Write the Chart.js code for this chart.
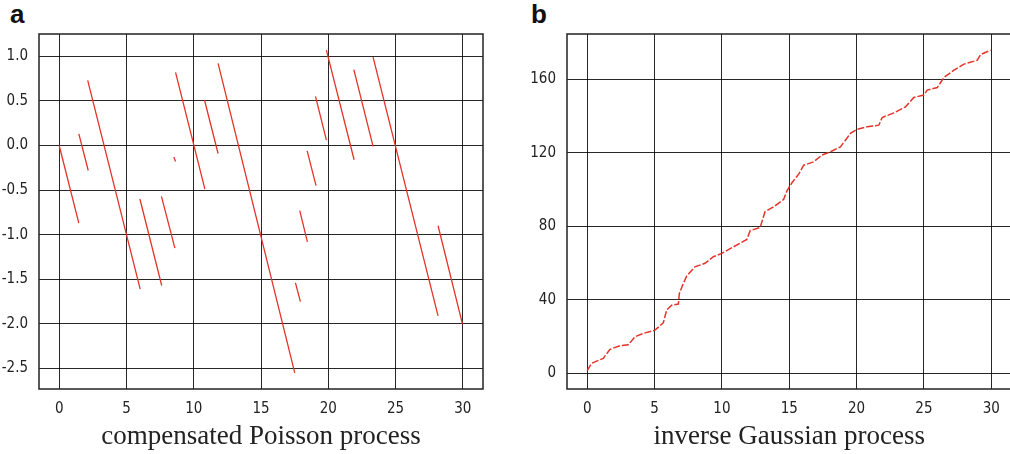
<!DOCTYPE html>
<html><head><meta charset="utf-8">
<script src="https://cdn.jsdelivr.net/npm/chart.js@4/dist/chart.umd.min.js"></script>
<style>
html,body{margin:0;padding:0;width:1010px;height:454px;overflow:hidden;background:#fff;}
.wrap{position:absolute;top:0;}
.lab{position:absolute;font-family:"Liberation Sans",Arial,sans-serif;font-weight:bold;font-size:26px;color:#111;line-height:1;}
</style></head><body>
<div class="lab" style="left:10px;top:1px">a</div>
<div class="lab" style="left:531px;top:1px">b</div>
<div class="wrap" style="left:0;width:500px;height:454px"><canvas id="c1" width="500" height="454"></canvas></div>
<div class="wrap" style="left:510px;width:510px;height:454px"><canvas id="c2" width="510" height="454"></canvas></div>
<script>
// ---- Panel a: compensated Poisson process (segments between jumps) ----
const segStartT = [0, 1.46, 2.12, 6.00, 7.60, 8.52, 8.65, 10.80, 11.81, 17.56, 17.88, 18.43, 19.05, 19.86, 21.90, 23.33, 28.16];
const segStartV = [0, 0.13, 0.73, -0.60, -0.57, -0.13, 0.82, 0.51, 0.92, -1.54, -0.73, -0.06, 0.55, 1.07, 0.85, 0.99, -0.90];
const segEndT   = [1.46, 2.16, 6.02, 7.62, 8.60, 8.65, 10.83, 11.81, 17.51, 17.93, 18.45, 19.09, 19.86, 21.92, 23.33, 28.16, 29.97];
const segEndV   = [-0.87, -0.28, -1.61, -1.57, -1.15, -0.18, -0.49, -0.09, -2.55, -1.75, -1.08, -0.45, 0.06, -0.16, -0.01, -1.91, -2.00];
const xTicks = [0, 5, 10, 15, 20, 25, 30];
const yTicksA = [-2.5, -2.0, -1.5, -1.0, -0.5, 0.0, 0.5, 1.0];

// ---- Panel b: inverse Gaussian process ----
const igT = [0, 0.32, 1.19, 1.69, 2.43, 3.05, 3.55, 4.17, 4.91, 5.03, 5.65, 5.90, 6.27, 6.77, 6.84, 7.14, 7.39, 8.00, 8.75, 9.37, 10.00, 10.86, 11.85, 12.10, 12.84, 13.20, 13.84, 14.58, 14.83, 15.20, 15.70, 16.07, 16.81, 17.43, 18.05, 18.80, 19.17, 19.54, 20.03, 20.78, 21.65, 21.90, 22.76, 23.63, 24.25, 24.99, 25.24, 25.99, 26.48, 27.23, 27.97, 28.96, 29.21, 29.95];
const igV = [1.3, 5.3, 8.0, 12.9, 14.9, 15.4, 19.8, 21.6, 23.1, 23.4, 27.4, 34.3, 37.0, 37.6, 43.4, 48.9, 52.9, 57.9, 59.8, 63.4, 65.2, 68.8, 72.8, 77.6, 79.4, 87.9, 90.6, 94.6, 99.3, 103.7, 108.4, 113.3, 115.1, 118.8, 120.6, 123.3, 126.9, 130.6, 132.8, 134.2, 135.1, 139.3, 141.8, 145.1, 150.2, 151.5, 154.2, 155.6, 161.1, 165.1, 168.4, 170.5, 173.6, 176.0];
const yTicksB = [0, 40, 80, 120, 160];

const RED = '#e3342a';
const GRID = 'rgba(15,15,15,0.9)';
const tickFont = {family: '"DejaVu Sans Condensed","DejaVu Sans",sans-serif', size: 15};
const titleFont = {family: '"Liberation Serif","Times New Roman",serif', size: 27};

const frame = {
  id: 'frame',
  afterDraw(chart) {
    const a = chart.chartArea, c = chart.ctx;
    c.save(); c.strokeStyle = '#222'; c.lineWidth = 1.5;
    c.strokeRect(a.left, a.top, a.right - a.left, a.bottom - a.top);
    c.restore();
  }
};

function makeScales(yTicks, yMin, yMax, yWidth, fmt, title) {
  return {
    x: {
      type: 'linear', min: -1.5, max: 31.5,
      afterBuildTicks: s => { s.ticks = xTicks.map(v => ({value: v})); },
      afterFit: s => { s.height = 65; },
      grid: {color: GRID, lineWidth: 1, drawTicks: false},
      border: {display: false},
      ticks: {font: tickFont, color: '#222', padding: 11, maxRotation: 0},
      title: {display: true, text: title, font: titleFont, color: '#222', padding: {top: 0, bottom: 1}}
    },
    y: {
      type: 'linear', min: yMin, max: yMax,
      afterBuildTicks: s => { s.ticks = yTicks.map(v => ({value: v})); },
      afterFit: s => { s.width = yWidth; },
      grid: {color: GRID, lineWidth: 1, drawTicks: false},
      border: {display: false},
      ticks: {font: tickFont, color: '#222', padding: 11, callback: fmt}
    }
  };
}

const ptsA = [];
for (let i = 0; i < segStartT.length; i++) {
  ptsA.push({x: segStartT[i], y: segStartV[i]});
  ptsA.push({x: segEndT[i], y: segEndV[i]});
  ptsA.push({x: segEndT[i], y: null});
}

new Chart(document.getElementById('c1'), {
  type: 'line',
  data: {datasets: [{data: ptsA, borderColor: RED, borderWidth: 1.3, pointRadius: 0, spanGaps: false, tension: 0}]},
  options: {
    responsive: false, animation: false,
    layout: {padding: {left: 0, right: 17, top: 34, bottom: 0}},
    plugins: {legend: {display: false}, tooltip: {enabled: false}},
    scales: makeScales(yTicksA, -2.73, 1.25, 39, v => Number(v).toFixed(1), 'compensated Poisson process')
  },
  plugins: [frame]
});

new Chart(document.getElementById('c2'), {
  type: 'line',
  data: {datasets: [{data: igT.map((t, i) => ({x: t, y: igV[i]})), borderColor: RED, borderWidth: 1.5, borderDash: [7, 2], pointRadius: 0, tension: 0}]},
  options: {
    responsive: false, animation: false,
    layout: {padding: {left: 0, right: 8.5, top: 34, bottom: 0}},
    plugins: {legend: {display: false}, tooltip: {enabled: false}},
    scales: makeScales(yTicksB, -8.7, 184.8, 57, v => String(v), 'inverse Gaussian process')
  },
  plugins: [frame]
});
</script>
</body></html>
